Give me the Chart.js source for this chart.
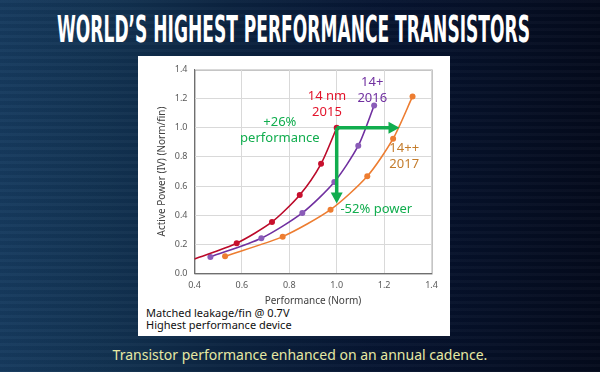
<!DOCTYPE html>
<html>
<head>
<meta charset="utf-8">
<script src="https://cdn.jsdelivr.net/npm/chart.js@4.4.1/dist/chart.umd.min.js"></script>
<style>
  html, body { margin: 0; padding: 0; }
  body {
    width: 600px; height: 372px; overflow: hidden; position: relative;
    background:
      repeating-linear-gradient(180deg, rgba(255,255,255,0.025) 0px, rgba(255,255,255,0.025) 3px, rgba(0,0,0,0.03) 3px, rgba(0,0,0,0.03) 7px),
      linear-gradient(90deg, #163a5e 0%, #123251 18%, #0b2340 38%, #061430 65%, #040a1c 100%);
  }
  #titleText {
    position: absolute; left: 57px; top: 7px; transform-origin: left top;
    color: #ffffff; font-family: "DejaVu Sans Condensed", "Liberation Sans Narrow", "DejaVu Sans", sans-serif;
    font-weight: bold; font-size: 38px; line-height: 44px; white-space: nowrap;
  }
  #panel {
    position: absolute; left: 138px; top: 56px; width: 312px; height: 280px; background: #ffffff;
  }
  #notes {
    position: absolute; left: 146px; top: 307px; font-family: "Noto Sans", "Open Sans", sans-serif;
    font-size: 11px; line-height: 12px; color: #111111;
  }
  #caption {
    position: absolute; left: 0; top: 345px; width: 600px; text-align: center;
    font-family: "Noto Sans", "Open Sans", sans-serif; font-size: 14px; color: #e6e9a4;
  }
  #canvas { position: absolute; left: 0; top: 0; }
</style>
</head>
<body>
<span id="titleText">WORLD’S HIGHEST PERFORMANCE TRANSISTORS</span>
<div id="panel"></div>
<div id="notes">Matched leakage/fin @ 0.7V<br>Highest performance device</div>
<div id="caption">Transistor performance enhanced on an annual cadence.</div>
<canvas id="canvas" width="600" height="372"></canvas>
<script>
// squeeze the title into the condensed look of the original
const titleSpan = document.getElementById('titleText');
const titleWidth = titleSpan.offsetWidth;
titleSpan.style.transform = `scaleX(${473 / titleWidth})`;

// series data (Performance, Active power)
const nm14_2015 = [[0.40, 0.10], [0.578, 0.208], [0.727, 0.354], [0.844, 0.539], [0.934, 0.753], [1.00, 1.00]];
const plus_2016 = [[0.467, 0.114], [0.682, 0.242], [0.855, 0.416], [0.99, 0.628], [1.091, 0.877], [1.158, 1.153]];
const plusplus_2017 = [[0.529, 0.119], [0.772, 0.253], [0.974, 0.438], [1.129, 0.667], [1.238, 0.925], [1.32, 1.215]];

const xTicks = [0.4, 0.6, 0.8, 1.0, 1.2, 1.4];
const yTicks = [0.0, 0.2, 0.4, 0.6, 0.8, 1.0, 1.2, 1.4];

const perfGain = [1.0, 1.265];   // +26% performance arrow
const powerCut = [1.0, 0.48];    // -52% power arrow

const toPoints = arr => arr.map(p => ({x: p[0], y: p[1]}));

const labels = [
  {lines: ['14 nm', '2015'], x: 0.959, y: 1.218, color: '#e3132b'},
  {lines: ['14+', '2016'], x: 1.15, y: 1.31, color: '#7030a0'},
  {lines: ['+26%', 'performance'], x: 0.76, y: 1.035, color: '#11ad4e'},
  {lines: ['14++', '2017'], x: 1.285, y: 0.86, color: '#c47c2c'},
  {lines: ['-52% power'], x: 1.167, y: 0.44, color: '#11ad4e'},
];

const annotationPlugin = {
  id: 'annotations',
  beforeDraw(chart) {
    const {ctx, chartArea: a} = chart;
    ctx.save();
    ctx.strokeStyle = '#8c8c8c';
    ctx.lineWidth = 1;
    ctx.strokeRect(a.left + 0.5, a.top + 0.5, a.right - a.left, a.bottom - a.top);
    ctx.restore();
  },
  afterDatasetsDraw(chart) {
    const {ctx, scales: {x, y}} = chart;
    ctx.save();
    // green arrows
    ctx.strokeStyle = '#11ad4e';
    ctx.fillStyle = '#11ad4e';
    ctx.lineWidth = 3.5;
    const x0 = x.getPixelForValue(perfGain[0]);
    const x1 = x.getPixelForValue(perfGain[1]);
    const yh = y.getPixelForValue(1.0);
    ctx.beginPath();
    ctx.moveTo(x0, yh);
    ctx.lineTo(x1 - 9, yh);
    ctx.stroke();
    ctx.beginPath();
    ctx.moveTo(x1, yh);
    ctx.lineTo(x1 - 11, yh - 6);
    ctx.lineTo(x1 - 11, yh + 6);
    ctx.closePath();
    ctx.fill();

    const xv = x.getPixelForValue(1.0);
    const y1 = y.getPixelForValue(powerCut[1]);
    ctx.beginPath();
    ctx.moveTo(xv, y.getPixelForValue(powerCut[0]));
    ctx.lineTo(xv, y1 - 9);
    ctx.stroke();
    ctx.beginPath();
    ctx.moveTo(xv, y1);
    ctx.lineTo(xv - 6, y1 - 11);
    ctx.lineTo(xv + 6, y1 - 11);
    ctx.closePath();
    ctx.fill();

    // text labels
    ctx.font = '13px "Noto Sans", "Open Sans", sans-serif';
    ctx.textAlign = 'center';
    ctx.textBaseline = 'middle';
    labels.forEach(l => {
      const px = x.getPixelForValue(l.x);
      const py = y.getPixelForValue(l.y);
      l.lines.forEach((t, i) => {
        ctx.fillStyle = l.color;
        ctx.fillText(t, px, py + i * 16);
      });
    });
    ctx.restore();
  }
};

const tickFont = {family: '"Noto Sans", "Open Sans", sans-serif', size: 9};
const titleFont = {family: '"Noto Sans", "Open Sans", sans-serif', size: 10};

const chart = new Chart(document.getElementById('canvas'), {
  type: 'line',
  data: {
    datasets: [
      {
        label: '14 nm 2015',
        data: toPoints(nm14_2015),
        borderColor: '#bb0a2a',
        backgroundColor: '#c8102e',
        pointRadius: [0, 3, 3, 3, 3, 3],
      },
      {
        label: '14+ 2016',
        data: toPoints(plus_2016),
        borderColor: '#7030a0',
        backgroundColor: '#8a5cb8',
        pointRadius: 3,
      },
      {
        label: '14++ 2017',
        data: toPoints(plusplus_2017),
        borderColor: '#ed7d31',
        backgroundColor: '#ed7d31',
        pointRadius: 3,
      }
    ]
  },
  options: {
    responsive: false,
    animation: false,
    layout: {padding: {left: 154.5, right: 168.5, top: 69.5, bottom: 62.5}},
    elements: {
      line: {borderWidth: 1.6, tension: 0.25},
      point: {borderWidth: 0, hoverRadius: 3}
    },
    plugins: {legend: {display: false}, tooltip: {enabled: false}},
    scales: {
      x: {
        type: 'linear', min: 0.4, max: 1.4,
        afterFit: s => { s.height = 36; },
        afterBuildTicks: s => { s.ticks = xTicks.map(v => ({value: v})); },
        grid: {color: '#d9d9d9', drawTicks: false},
        border: {color: '#6f6f6f', width: 1},
        ticks: {font: tickFont, color: '#595959', padding: 7, callback: v => v.toFixed(1), maxRotation: 0},
        title: {display: true, text: 'Performance (Norm)', font: titleFont, color: '#404040', padding: 2}
      },
      y: {
        type: 'linear', min: 0, max: 1.4,
        afterFit: s => { s.width = 40; },
        afterBuildTicks: s => { s.ticks = yTicks.map(v => ({value: v})); },
        grid: {color: '#d9d9d9', drawTicks: false},
        border: {color: '#6f6f6f', width: 1},
        ticks: {font: tickFont, color: '#595959', padding: 7, callback: v => v.toFixed(1)},
        title: {display: true, text: 'Active Power (IV) (Norm/fin)', font: titleFont, color: '#404040', padding: 2}
      }
    }
  },
  plugins: [annotationPlugin]
});
</script>
</body>
</html>
